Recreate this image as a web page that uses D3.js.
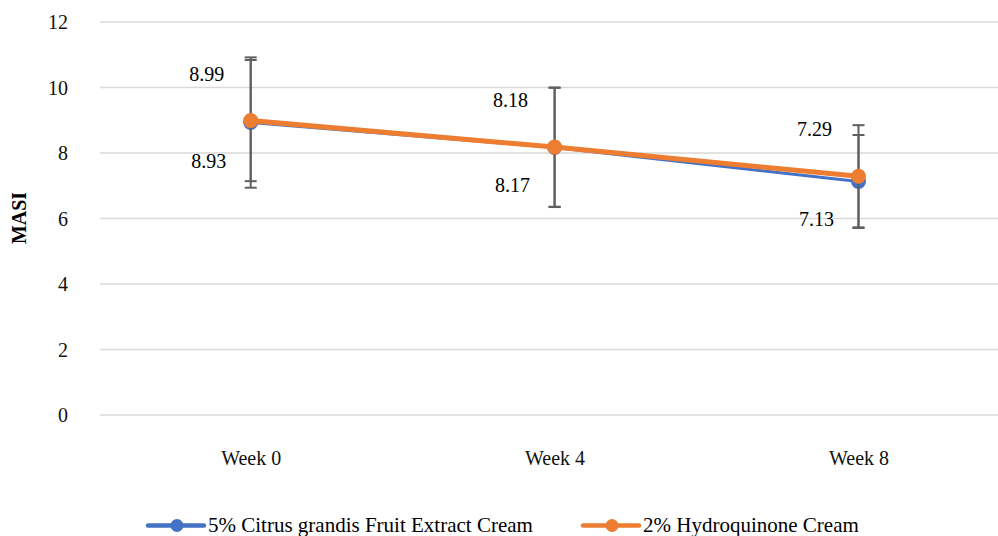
<!DOCTYPE html>
<html><head><meta charset="utf-8">
<script src="https://cdn.jsdelivr.net/npm/d3@7"></script>
<style>body{margin:0;background:#fff}svg{display:block}
svg text{font-family:"Liberation Serif",Tinos,"Times New Roman","DejaVu Serif",serif !important}</style>
</head><body><svg id="c" width="998" height="536"></svg>
<script>
const categories = ["Week 0", "Week 4", "Week 8"];
const seriesNames = ["5% Citrus grandis Fruit Extract Cream", "2% Hydroquinone Cream"];
const citrusValues = [8.93, 8.17, 7.13];
const hydroValues = [8.99, 8.18, 7.29];
const citrusErrors = [1.99, 1.82, 1.42];
const hydroErrors = [1.85, 1.82, 1.56];
const yTicks = [0, 2, 4, 6, 8, 10, 12];
const colors = ["#4472C4", "#ED7D31"];

const FONT = "'Liberation Serif', Tinos, 'Times New Roman', 'DejaVu Serif', serif";
const svg = d3.select("#c");
const x = d3.scalePoint().domain(categories).range([250.7, 858.5]);
const y = d3.scaleLinear().domain([0, 12]).range([415, 22]);

// gridlines
svg.append("g").selectAll("line").data(yTicks).join("line")
  .attr("x1", 100).attr("x2", 998)
  .attr("y1", d => y(d)).attr("y2", d => y(d))
  .attr("stroke", "#d9d9d9").attr("stroke-width", 1.3);

// y axis tick labels
const yAxis = d3.axisLeft(y).tickValues(yTicks).tickSize(0).tickPadding(0);
const gy = svg.append("g").attr("transform", "translate(68,0)").call(yAxis);
gy.attr("font-family", FONT);
gy.select(".domain").remove();
gy.selectAll("text").attr("font-size", 20).attr("fill", "#111").style("font-family", FONT).attr("dy", "0.33em");

// x axis labels
const xAxis = d3.axisBottom(x).tickSize(0).tickPadding(0);
const gx = svg.append("g").attr("transform", "translate(0,465)").call(xAxis);
gx.attr("font-family", FONT);
gx.select(".domain").remove();
gx.selectAll("text").attr("font-size", 20).attr("fill", "#111").style("font-family", FONT).attr("dy", 0).attr("y", 0);

// y title
svg.append("text").attr("transform", "translate(26,218) rotate(-90)")
  .attr("text-anchor", "middle").attr("font-size", 20).attr("font-weight", "bold")
  .style("font-family", FONT).attr("fill", "#000").text("MASI");

const series = [
  {vals: citrusValues, errs: citrusErrors, color: colors[0], width: 3},
  {vals: hydroValues, errs: hydroErrors, color: colors[1], width: 5}
];
const line = d3.line().x((d, i) => x(categories[i])).y(d => y(d));

series.forEach(s => {
  const g = svg.append("g");
  const eb = g.selectAll("g.eb").data(s.vals).join("g");
  eb.append("line").attr("x1", (d, i) => x(categories[i])).attr("x2", (d, i) => x(categories[i]))
    .attr("y1", (d, i) => y(d + s.errs[i])).attr("y2", (d, i) => y(d - s.errs[i]))
    .attr("stroke", "#5f5f5f").attr("stroke-width", 2);
  [1, -1].forEach(sign => {
    eb.append("line").attr("x1", (d, i) => x(categories[i]) - 6).attr("x2", (d, i) => x(categories[i]) + 6)
      .attr("y1", (d, i) => y(d + sign * s.errs[i])).attr("y2", (d, i) => y(d + sign * s.errs[i]))
      .attr("stroke", "#5f5f5f").attr("stroke-width", 2);
  });
  g.append("path").datum(s.vals).attr("d", line).attr("fill", "none")
    .attr("stroke", s.color).attr("stroke-width", s.width).attr("stroke-linejoin", "round");
  g.selectAll("circle").data(s.vals).join("circle")
    .attr("cx", (d, i) => x(categories[i])).attr("cy", d => y(d)).attr("r", 7.5)
    .attr("fill", s.color);
});

// data labels
const labelFont = 20;
svg.append("g").selectAll("text").data(hydroValues).join("text")
  .attr("x", (d, i) => x(categories[i]) - 44).attr("y", (d, i) => y(d) - 40)
  .attr("text-anchor", "middle").attr("font-size", labelFont).attr("fill", "#000")
  .style("font-family", FONT).text(d => d.toFixed(2));
svg.append("g").selectAll("text").data(citrusValues).join("text")
  .attr("x", (d, i) => x(categories[i]) - 42).attr("y", (d, i) => y(d) + 45)
  .attr("text-anchor", "middle").attr("font-size", labelFont).attr("fill", "#000")
  .style("font-family", FONT).text(d => d.toFixed(2));

// legend
const legX = [148, 583];
const lg = svg.append("g");
seriesNames.forEach((n, i) => {
  const gg = lg.append("g").attr("transform", `translate(${legX[i]},525.5)`);
  gg.append("line").attr("x1", 0).attr("x2", 56).attr("stroke", colors[i]).attr("stroke-width", 4.5).attr("stroke-linecap", "round");
  gg.append("circle").attr("cx", 29).attr("r", 6.5).attr("fill", colors[i]);
  gg.append("text").attr("x", 60).attr("y", 0).attr("dy", "0.33em").attr("font-size", 21)
    .style("font-family", FONT).attr("fill", "#000").text(n);
});
</script></body></html>
